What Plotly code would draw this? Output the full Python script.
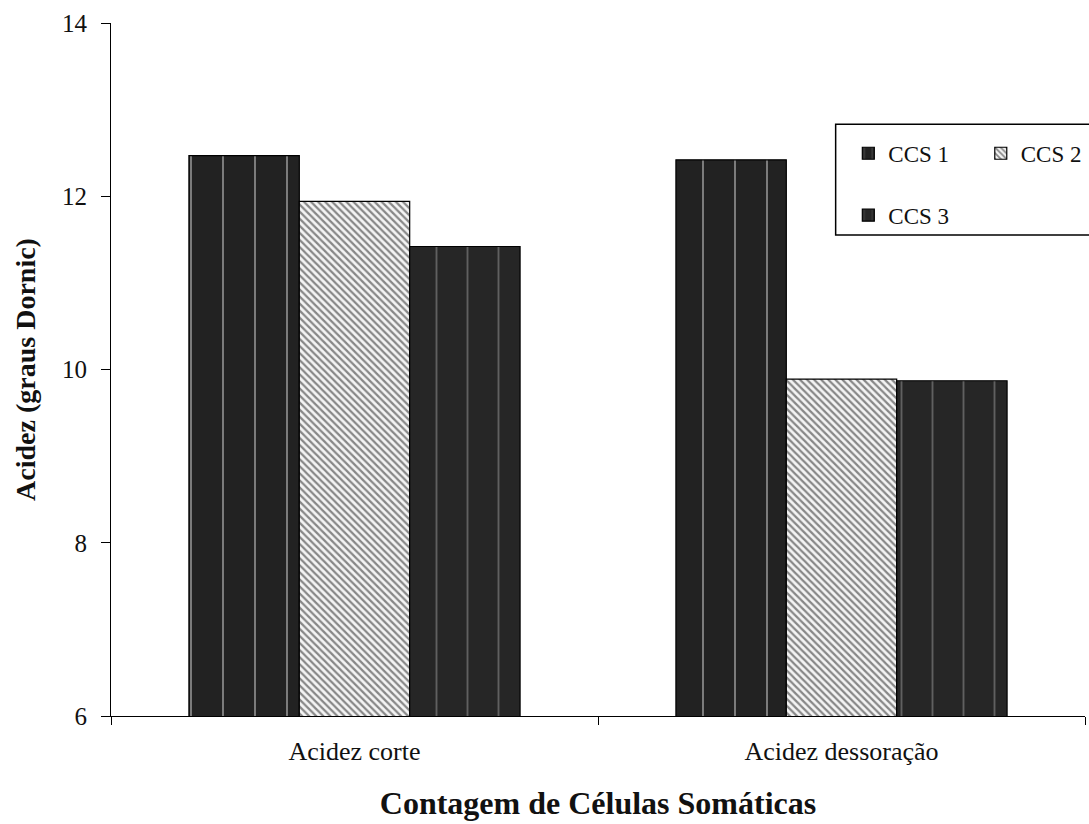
import plotly.graph_objects as go

# Acidity (degrees Dornic) by somatic cell count class
categories = ["Acidez corte", "Acidez dessoração"]
ccs1 = [12.47, 12.42]
ccs2 = [11.94, 9.89]
ccs3 = [11.42, 9.87]
y_ticks = [6, 8, 10, 12, 14]

SERIF = "Liberation Serif, Times New Roman, serif"
INK = "#111111"

fig = go.Figure()

fig.add_trace(go.Bar(
    name="CCS 1", x=categories, y=ccs1,
    legend="legend", legendgroup="a",
    marker=dict(
        color="#222222",
        line=dict(color="#000000", width=1.2),
        pattern=dict(shape="|", bgcolor="#222222", fgcolor="#dcdcdc",
                     size=32, solidity=0.06),
    ),
))
fig.add_trace(go.Bar(
    name="CCS 2", x=categories, y=ccs2,
    legend="legend2", legendgroup="b",
    marker=dict(
        color="#ffffff",
        line=dict(color="#000000", width=1.2),
        pattern=dict(shape="\\", bgcolor="#f4f4f4", fgcolor="#1a1a1a",
                     size=5, solidity=0.45),
    ),
))
fig.add_trace(go.Bar(
    name="CCS 3", x=categories, y=ccs3,
    legend="legend", legendgroup="c",
    marker=dict(
        color="#262626",
        line=dict(color="#000000", width=1.2),
        pattern=dict(shape="|", bgcolor="#262626", fgcolor="#9a9a9a",
                     size=31, solidity=0.06),
    ),
))

legend_font = dict(family=SERIF, size=23, color=INK)

fig.update_layout(
    width=1089, height=824, autosize=False,
    margin=dict(l=111, r=2, t=23, b=108),
    paper_bgcolor="#ffffff", plot_bgcolor="#ffffff",
    font=dict(family=SERIF, color=INK, size=22),
    barmode="group", bargap=0.32, bargroupgap=0,
    showlegend=True,
    legend=dict(
        x=0.757, y=0.843, xanchor="left", yanchor="top",
        orientation="v", traceorder="grouped", tracegroupgap=29,
        bgcolor="rgba(0,0,0,0)", borderwidth=0, font=legend_font,
    ),
    legend2=dict(
        x=0.893, y=0.843, xanchor="left", yanchor="top",
        orientation="v", bgcolor="rgba(0,0,0,0)", borderwidth=0,
        font=legend_font,
    ),
    xaxis=dict(
        type="category",
        showline=True, linecolor="#000000", linewidth=1.2,
        ticks="outside", tickson="boundaries", ticklen=8,
        tickcolor="#000000", tickwidth=1.2,
        tickfont=dict(family=SERIF, size=26, color=INK),
        ticklabelstandoff=12,
        showgrid=False, zeroline=False,
        title=dict(text="<b>Contagem de Células Somáticas</b>",
                   font=dict(family=SERIF, size=32, color=INK), standoff=26),
    ),
    yaxis=dict(
        range=[6, 14], tickvals=y_ticks,
        showline=True, linecolor="#000000", linewidth=1.2,
        ticks="outside", ticklen=9, tickcolor="#000000", tickwidth=1.2,
        tickfont=dict(family=SERIF, size=25, color=INK),
        ticklabelstandoff=9,
        showgrid=False, zeroline=False,
        title=dict(text="<b>Acidez (graus Dornic)</b>",
                   font=dict(family=SERIF, size=28, color=INK), standoff=18),
    ),
    shapes=[dict(
        type="rect", xref="paper", yref="paper",
        x0=0.744, x1=1.02, y0=0.694, y1=0.854,
        line=dict(color="#000000", width=1.5),
        fillcolor="#ffffff", layer="below",
    )],
)

fig.write_html("out.html")
